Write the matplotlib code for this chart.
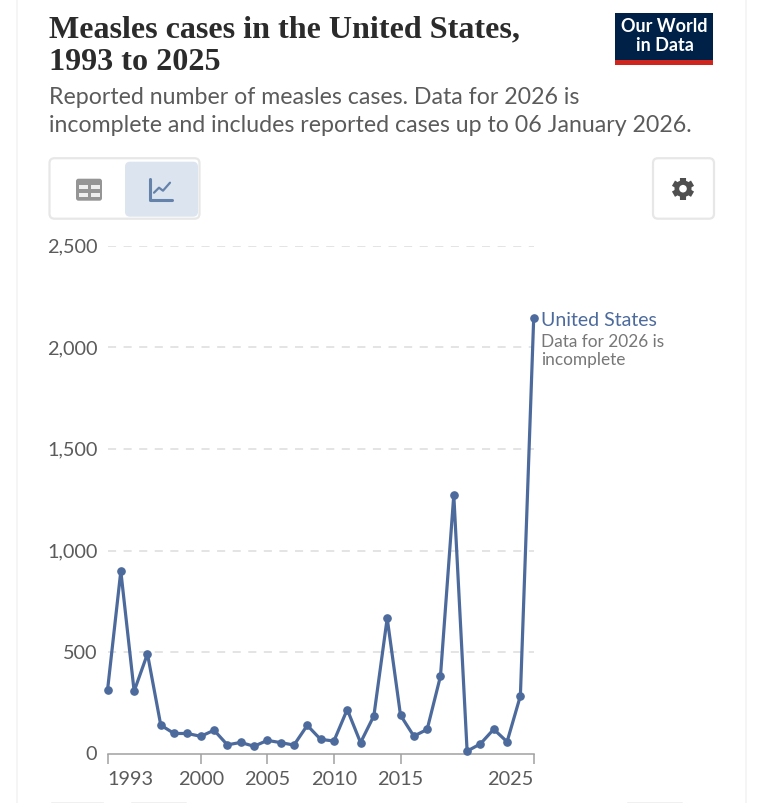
import numpy as np
import matplotlib
matplotlib.use('Agg')
import matplotlib.pyplot as plt
from matplotlib.patches import FancyBboxPatch, Rectangle, Circle

years = list(range(1993, 2026))
cases = [312, 899, 308, 492, 141, 100, 100, 86, 116, 44, 56, 37, 66, 55, 43, 140,
         71, 63, 218, 55, 187, 667, 190, 87, 120, 382, 1274, 13, 49, 121, 59, 285, 2144]
y_ticks = [0, 500, 1000, 1500, 2000, 2500]
y_labels = ['0', '500', '1,000', '1,500', '2,000', '2,500']
x_ticks = [1993, 2000, 2005, 2010, 2015, 2025]

W, H = 765, 804
BLUE = '#4c6a9c'
GREY = '#5b5b5b'
SHIFT = 1.7
plt.rcParams['font.family'] = ['Lato', 'DejaVu Sans']

fig = plt.figure(figsize=(W / 100, H / 100), dpi=100)

# page furniture is drawn in pixel coordinates
bg = fig.add_axes([0, 0, 1, 1])
bg.set_xlim(0, W)
bg.set_ylim(H - SHIFT, -SHIFT)
bg.axis('off')

for x in [17, 746]:
    bg.plot([x, x], [-5, H], color='#f3f3f3', lw=1.2)
for x0, x1 in [(52, 103), (132, 186), (628, 682)]:
    bg.plot([x0, x1], [802, 802], color='#eeeeee', lw=1.2)

bg.text(49, 28, 'Measles cases in the United States,', family='Liberation Serif', weight='bold',
        fontsize=23.1, color='#2b2b2b', va='center')
bg.text(49, 61, '1993 to 2025', family='Liberation Serif', weight='bold',
        fontsize=23.1, color='#2b2b2b', va='center')
bg.text(49, 96, 'Reported number of measles cases. Data for 2026 is', fontsize=16.7,
        color=GREY, va='center')
bg.text(49, 124, 'incomplete and includes reported cases up to 06 January 2026.', fontsize=16.7,
        color=GREY, va='center')

# logo
bg.add_patch(Rectangle((615, 12), 98, 47, color='#002147', lw=0))
bg.add_patch(Rectangle((615, 59), 98, 5, color='#ce261e', lw=0))
bg.text(664.5, 24.5, 'Our World', color='white', fontsize=13, weight='bold', ha='center', va='center')
bg.text(664.5, 44, 'in Data', color='white', fontsize=13, weight='bold', ha='center', va='center')


def button(x, y, w, h, r=5, **kw):
    bg.add_patch(FancyBboxPatch((x + r, y + r), w - 2 * r, h - 2 * r,
                                boxstyle=f'round,pad={r},rounding_size={r}', **kw))


button(49.5, 157.5, 150, 60.5, fc='white', ec='#e7e7e7', lw=1.6)
button(125, 161, 73, 55, fc='#dbe4ef', ec='none')
button(653, 157.5, 61, 60.5, fc='white', ec='#e7e7e7', lw=1.6)

# table icon
button(76, 178, 26, 22, r=2.5, fc='#959595', ec='none')
for cx in [79, 91]:
    for cy in [184, 192]:
        bg.add_patch(Rectangle((cx, cy), 8.8, 4.5, color='#eeeeee', lw=0, zorder=3))

# chart icon
bg.plot([150, 150, 172], [178, 199, 199], color='#6582ab', lw=2.2, solid_capstyle='round',
        solid_joinstyle='round')
bg.plot([154, 159, 163, 170], [192, 187, 190, 182], color='#6582ab', lw=1.6, solid_capstyle='round')

# gear icon
for ang in np.radians([90, 30, 150]):
    dx, dy = 11 * np.cos(ang), 11 * np.sin(ang)
    bg.plot([683 - dx, 683 + dx], [188 - dy, 188 + dy], color='#4f4f4f', lw=4.4, solid_capstyle='butt')
bg.add_patch(Circle((683, 188), 8.5, color='#4f4f4f', lw=0, zorder=3))
bg.add_patch(Circle((683, 188), 3.8, color='white', lw=0, zorder=4))

# chart
left, right, top, bottom = 107.5, 533.7, 246.8, 754.8
ax = fig.add_axes([left / W, 1 - bottom / H, (right - left) / W, (bottom - top) / H])
ax.patch.set_alpha(0)
ax.set_xlim(1993, 2025)
ax.set_ylim(0, 2500)
for side in ['top', 'right', 'left']:
    ax.spines[side].set_visible(False)
ax.spines['bottom'].set_color('#a1a1a1')
ax.spines['bottom'].set_linewidth(1.1)

ax.set_yticks(y_ticks[1:], [])
for v, lab in zip(y_ticks, y_labels):
    ax.annotate(lab, (0, v), xycoords=('axes fraction', 'data'), xytext=(-7.3, 0),
                textcoords='offset points', ha='right', va='center', fontsize=14.3, color=GREY)
ax.tick_params(axis='y', length=0)
ax.grid(axis='y', color='#dddddd', lw=1.1, dashes=(5.3, 4.9))
ax.set_axisbelow(True)

ax.set_xticks(x_ticks, [])
ax.tick_params(axis='x', length=7, width=1.1, color='#a1a1a1')
for yr in x_ticks:
    ha = 'left' if yr == 1993 else 'right' if yr == 2025 else 'center'
    ax.annotate(str(yr), (yr, 0), xycoords=('data', 'axes fraction'), xytext=(0, -17.6),
                textcoords='offset points', ha=ha, va='center', fontsize=14.3, color=GREY)

ax.plot(years, cases, color=BLUE, lw=2.3, marker='o', ms=5.2, clip_on=False, zorder=3)

ax.annotate('United States', (2025, cases[-1]), xytext=(5.3, -1), textcoords='offset points',
            fontsize=14, color=BLUE, va='center')
ax.annotate('Data for 2026 is', (2025, cases[-1]), xytext=(5.3, -16.5), textcoords='offset points',
            fontsize=12.4, color='#777777', va='center')
ax.annotate('incomplete', (2025, cases[-1]), xytext=(5.3, -29.5), textcoords='offset points',
            fontsize=12.4, color='#777777', va='center')

fig.savefig('out.png', dpi=100)
